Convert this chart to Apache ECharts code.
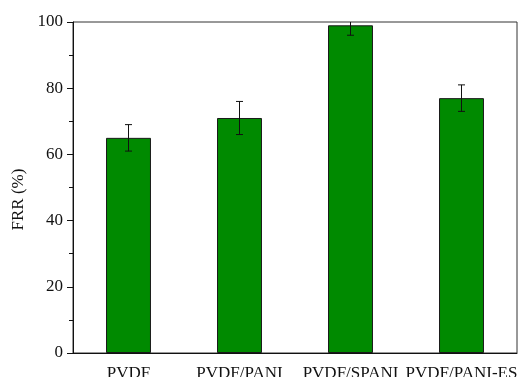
<!DOCTYPE html>
<html>
<head>
<meta charset="utf-8">
<title>FRR</title>
<script src="https://cdn.jsdelivr.net/npm/echarts@6/dist/echarts.min.js"></script>
<style>
  html, body { margin: 0; padding: 0; background: #fff; }
  #chart { width: 518px; height: 377px; }
</style>
</head>
<body>
<div id="chart"></div>
<script>
// Flux recovery ratio of each membrane, with standard deviation
const categories = ['PVDF', 'PVDF/PANI', 'PVDF/SPANI', 'PVDF/PANI-ES'];
const frrValues = [65, 71, 99, 77];
const frrErrors = [4, 5, 3, 4];
const yTicks = [0, 20, 40, 60, 80, 100];

const FONT = 'Liberation Serif';
const INK = '#111';

const chart = echarts.init(document.getElementById('chart'));

const errorData = categories.map((c, i) => [i, frrValues[i] - frrErrors[i], frrValues[i] + frrErrors[i]]);

chart.setOption({
  animation: false,
  grid: {
    left: 73, right: 1, top: 22, bottom: 24,
    outerBoundsMode: 'none',
    containLabel: false,
    show: true, borderColor: '#333', borderWidth: 1, backgroundColor: 'transparent'
  },
  xAxis: [
    {
      type: 'category',
      data: categories,
      position: 'bottom',
      axisLine: { lineStyle: { color: INK, width: 1 } },
      axisTick: { alignWithLabel: true, length: 6, lineStyle: { color: INK } },
      axisLabel: { color: INK, fontFamily: FONT, fontSize: 17, margin: 12, interval: 0 }
    },
    {
      type: 'category',
      data: categories,
      position: 'bottom',
      axisLine: { show: false },
      axisTick: { length: 4, lineStyle: { color: INK } },
      axisLabel: { show: false }
    }
  ],
  yAxis: {
    type: 'value',
    min: 0,
    max: 100,
    interval: 20,
    name: 'FRR (%)',
    nameLocation: 'middle',
    nameGap: 42,
    nameTextStyle: { color: INK, fontFamily: FONT, fontSize: 17, padding: [0, 24, 0, 0] },
    axisLine: { show: true, lineStyle: { color: INK, width: 1 } },
    axisTick: { show: true, length: 6, lineStyle: { color: INK } },
    minorTick: { show: true, splitNumber: 2, length: 4, lineStyle: { color: INK } },
    splitLine: { show: false },
    axisLabel: {
      color: INK, fontFamily: FONT, fontSize: 17, margin: 10,
      formatter: v => (yTicks.indexOf(v) >= 0 ? String(v) : '')
    }
  },
  series: [
    {
      type: 'bar',
      data: frrValues,
      barWidth: '40.5%',
      itemStyle: { color: '#008a00', borderColor: '#1a1a1a', borderWidth: 1 }
    },
    {
      type: 'custom',
      data: errorData,
      clip: true,
      z: 5,
      renderItem: function (params, api) {
        const x = api.value(0);
        const lo = api.coord([x, api.value(1)]);
        const hi = api.coord([x, api.value(2)]);
        const half = 3.5;
        const style = { stroke: INK, lineWidth: 1 };
        return {
          type: 'group',
          children: [
            { type: 'line', shape: { x1: lo[0], y1: lo[1], x2: hi[0], y2: hi[1] }, style },
            { type: 'line', shape: { x1: lo[0] - half, y1: lo[1], x2: lo[0] + half, y2: lo[1] }, style },
            { type: 'line', shape: { x1: hi[0] - half, y1: hi[1], x2: hi[0] + half, y2: hi[1] }, style }
          ]
        };
      }
    }
  ]
});
</script>
</body>
</html>
